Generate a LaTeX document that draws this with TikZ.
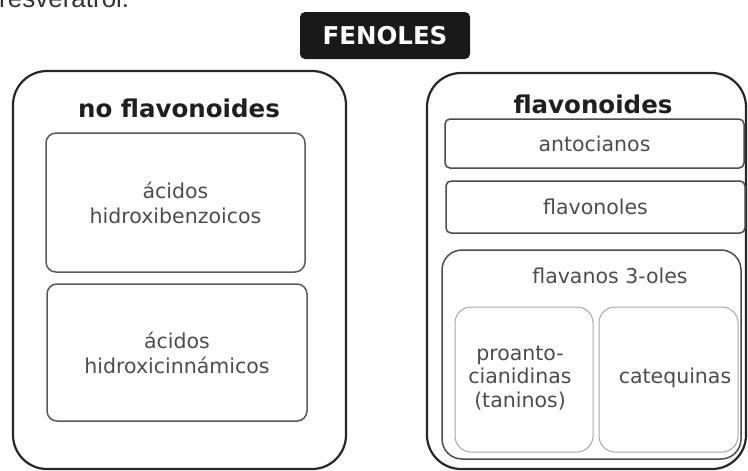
\documentclass[tikz,border=0pt]{standalone}
\usepackage{fontspec}
\setmainfont{DejaVu Sans}
\newfontfamily\arialfont{Liberation Sans}
\begin{document}
\begin{tikzpicture}[x=1pt,y=-1pt,
  outerbox/.style={draw=black!85, line width=2.2pt, rounded corners=34pt, inner sep=0pt},
  midbox/.style={draw=black!65, line width=1.5pt, rounded corners=10pt, inner sep=0pt,
    text=black!70, align=center, font=\fontsize{20.5}{25}\selectfont},
  barbox/.style={draw=black!70, line width=1.5pt, rounded corners=5pt, inner sep=0pt,
    text=black!70, align=center, font=\fontsize{20.5}{25}\selectfont},
  lightbox/.style={draw=black!35, line width=1pt, rounded corners=16pt, inner sep=0pt},
  head/.style={text=black!88, font=\bfseries\fontsize{24.5}{24.5}\selectfont, inner sep=0pt},
  plain/.style={text=black!70, align=center, font=\fontsize{20.5}{23.5}\selectfont, inner sep=0pt}
]
\clip (0,0) rectangle (748,471);
\useasboundingbox (0,0) rectangle (748,471);

\node[anchor=base west, inner sep=0pt, text=black!80, font=\arialfont\fontsize{26}{26}\selectfont] (res) at (-1,7) {resveratrol.};

\node[fill=black!90, rounded corners=5pt, minimum width=170, minimum height=47, inner sep=0pt,
  text=white, font=\bfseries\fontsize{24.5}{24.5}\selectfont] (fen) at (385,35.5) {FENOLES};

% left group
\node[outerbox, minimum width=333, minimum height=398] (left) at (179.5,270) {};
\node[head] (noflav) at (179,108) {no flavonoides};
\node[midbox, minimum width=259, minimum height=139] (hb) at (175.5,202.5) {ácidos\\hidroxibenzoicos};
\node[midbox, minimum width=260, minimum height=137] (hc) at (177,352.5) {ácidos\\hidroxicinnámicos};

% right group
\node[outerbox, minimum width=319, minimum height=396] (right) at (586.5,271) {};
\node[head] (flav) at (593,104) {flavonoides};
\node[barbox, minimum width=299, minimum height=49] (anto) at (594.5,143.5) {antocianos};
\node[barbox, minimum width=299, minimum height=52] (flavol) at (595.5,207) {flavonoles};
\node[barbox, rounded corners=20pt, minimum width=299, minimum height=209] (flavan) at (591.5,354.5) {};
\node[plain] (flavanlab) at (610,276) {flavanos 3-oles};
\node[lightbox, minimum width=138, minimum height=145] (proa) at (524,379.5) {};
\node[lightbox, minimum width=139, minimum height=145] (cate) at (668.5,379.5) {};
\node[plain] (proatext) at (520,378) {proanto-\\cianidinas\\(taninos)};
\node[plain] (catetext) at (675,378) {catequinas};
\end{tikzpicture}
\end{document}
